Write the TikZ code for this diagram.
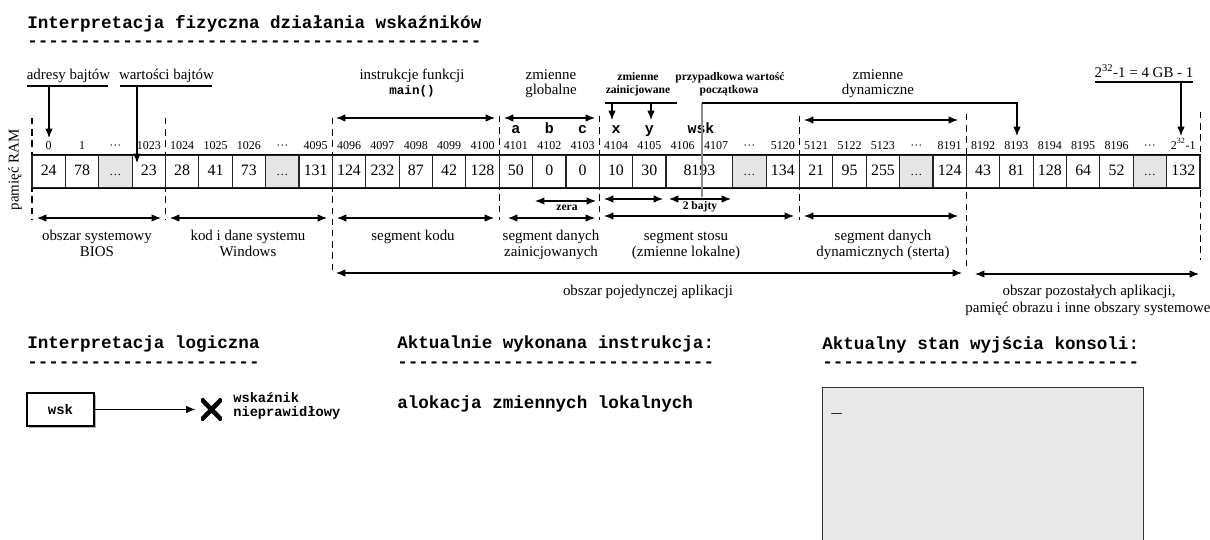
\documentclass[tikz,border=0pt]{standalone}
\usepackage{fontspec}
\setmainfont{Liberation Serif}
\setmonofont{Liberation Mono}
\usetikzlibrary{arrows.meta,shadows}

\begin{document}
\begin{tikzpicture}[x=0.75pt,y=-0.75pt,
  lbl/.style={font=\fontsize{11.2}{13}\selectfont, inner sep=0pt, anchor=base},
  addr/.style={font=\fontsize{9}{10}\selectfont, inner sep=0pt, anchor=base},
  smallbold/.style={font=\bfseries\fontsize{8.7}{10}\selectfont, inner sep=0pt, anchor=base},
  heading/.style={font=\ttfamily\bfseries\fontsize{13.2}{15}\selectfont, inner sep=0pt, anchor=base west},
  varname/.style={font=\ttfamily\bfseries\fontsize{11.2}{13}\selectfont, inner sep=0pt, anchor=base},
  memcell/.style={draw=black!85, fill=white, line width=0.85pt, minimum width=25.03pt,
    minimum height=24.75pt, inner sep=0pt, text height=6pt, text depth=0pt,
    font=\fontsize{11.9}{13}\selectfont},
  gapcell/.style={memcell, fill=black!10, font=\fontsize{9}{10}\selectfont},
  widecell/.style={memcell, minimum width=50.06pt},
  guide/.style={line width=1.05pt, dash pattern=on 4.8pt off 3.6pt},
  span/.style={line width=0.8pt, {Latex[length=7pt,width=5.6pt]}-{Latex[length=7pt,width=5.6pt]}},
  pointer/.style={line width=0.8pt, -{Latex[length=7pt,width=5.6pt]}},
  rule/.style={line width=0.8pt},
  crossmark/.style={minimum width=15.5pt, minimum height=16pt, inner sep=0pt,
    path picture={\draw[line width=3.4pt, line cap=butt]
      (path picture bounding box.north west) -- (path picture bounding box.south east)
      (path picture bounding box.south west) -- (path picture bounding box.north east);}},
]
\useasboundingbox (0,0) rectangle (1210,539);

% ---------- heading ----------
\node[heading] (title) at (27,28) {Interpretacja fizyczna działania wskaźników};
\node[heading] (titlerule) at (27,46.5) {-------------------------------------------};

% ---------- segment boundaries (dashed guides) ----------
\draw[guide] (32,118) -- (32,220);
\draw[guide] (165.5,118) -- (165.5,220);
\draw[guide] (332.3,118) -- (332.3,270);
\draw[guide] (499.2,116) -- (499.2,220);
\draw[guide] (599.3,116) -- (599.3,220);
\draw[guide] (799.5,116) -- (799.5,220);
\draw[guide] (966.4,114) -- (966.4,268);
\draw[guide] (1200.5,112) -- (1200.5,260);

% ---------- memory cells ----------
\foreach \i/\v in {0/24,1/78,3/23,4/28,5/41,6/73,8/131,9/124,10/232,11/87,12/42,13/128,
                   14/50,15/0,16/0,17/10,18/30,22/134,23/21,24/95,25/255,27/124,
                   28/43,29/81,30/128,31/64,32/52,34/132}
  \node[memcell] (c\i) at ({32+(\i+0.5)*33.371},171.5) {\v};
\foreach \i in {2,7,21,26,33}
  \node[gapcell] (c\i) at ({32+(\i+0.5)*33.371},171.5) {…};
\node[widecell] (c19) at ({32+20*33.371},171.5) {8193};
\draw[line width=1.3pt] (c0.north west) -- (c34.north east);
\draw[line width=1.3pt] (c0.south west) -- (c34.south east);

% ---------- addresses ----------
\foreach \i/\a in {0/0,1/1,2/···,3/1023,4/1024,5/1025,6/1026,7/···,8/4095,9/4096,
                   10/4097,11/4098,12/4099,13/4100,14/4101,15/4102,16/4103,17/4104,
                   18/4105,19/4106,20/4107,21/···,22/5120,23/5121,24/5122,25/5123,
                   26/···,27/8191,28/8192,29/8193,30/8194,31/8195,32/8196,33/···,
                   34/{2\textsuperscript{32}-1}}
  \node[addr] (a\i) at ({32+(\i+0.5)*33.371},149) {\a};

\node[lbl, rotate=90, anchor=center] (ram) at (15,170) {pamięć RAM};

% ---------- variable names ----------
\node[varname] (va) at ({32+14.5*33.371},133) {a};
\node[varname] (vb) at ({32+15.5*33.371},133) {b};
\node[varname] (vc) at ({32+16.5*33.371},133) {c};
\node[varname] (vx) at ({32+17.5*33.371},133) {x};
\node[varname] (vy) at ({32+18.5*33.371},133) {y};
\node[varname] (vwsk) at (701,133) {wsk};

% ---------- labels above the memory ----------
\node[lbl] (ladr) at (68.5,79) {adresy bajtów};
\draw[rule] (27,86) -- (108,86);
\coordinate (adrtip) at (49,138);
\draw[pointer] (49,86) -- (adrtip);

\node[lbl] (lval) at (166.5,79) {wartości bajtów};
\draw[rule] (120,86) -- (212,86);
\coordinate (valtip) at (137,163);
\draw[pointer] (137,86) -- (valtip);

\node[lbl] (lmain1) at (412,79) {instrukcje funkcji};
\node[font=\ttfamily\bfseries\fontsize{9.4}{11}\selectfont, inner sep=0pt, anchor=base] (lmain2) at (412,94) {main()};
\draw[span] (336,118) -- (495,118);

\node[lbl] (lglob1) at (551,79) {zmienne};
\node[lbl] (lglob2) at (551,94) {globalne};
\draw[span] (504,118) -- (595,118);

\node[smallbold] (linit1) at (638,80) {zmienne};
\node[smallbold] (linit2) at (638,93) {zainicjowane};
\draw[rule] (605,103) -- (677,103);
\draw[pointer] (612,103) -- (612,120);
\draw[pointer] (651,103) -- (651,120);

\node[smallbold] (lrand1) at (730,80) {przypadkowa wartość};
\node[smallbold] (lrand2) at (729,93) {początkowa};
\coordinate (randcorner) at (702,103);
\draw[line width=0.8pt, black!45] (702,197) -- (randcorner);
\draw[pointer] (randcorner) -- (1017,103) -- (1017,136);

\node[lbl] (ldyn1) at (878,79) {zmienne};
\node[lbl] (ldyn2) at (878,94) {dynamiczne};
\draw[span] (804,120) -- (958,120);

\node[lbl] (lmax) at (1144,77) {2\textsuperscript{32}-1 = 4 GB - 1};
\draw[rule] (1095,82) -- (1193,82);
\draw[pointer] (1181,82) -- (1181,136);

% ---------- labels below the memory ----------
\draw[span] (37,218) -- (161,218);
\node[lbl] (lbios1) at (97,240) {obszar systemowy};
\node[lbl] (lbios2) at (97,256) {BIOS};

\draw[span] (170,218) -- (327,218);
\node[lbl] (lwin1) at (248,240) {kod i dane systemu};
\node[lbl] (lwin2) at (248,256) {Windows};

\draw[span] (337,218) -- (494,218);
\node[lbl] (lcode) at (413,240) {segment kodu};

\draw[span] (535,201) -- (596,201);
\node[smallbold] (lzera) at (567,210) {zera};
\draw[span] (508,218) -- (595,218);
\node[lbl] (ldata1) at (551,240) {segment danych};
\node[lbl] (ldata2) at (551,256) {zainicjowanych};

\draw[span] (604,199) -- (663,199);
\draw[span] (669,199) -- (731,199);
\node[smallbold] (lbytes) at (700,209) {2 bajty};
\draw[span] (604,216) -- (794,216);
\node[lbl] (lstack1) at (686,240) {segment stosu};
\node[lbl] (lstack2) at (686,256) {(zmienne lokalne)};

\draw[span] (804,216) -- (958,216);
\node[lbl] (lheap1) at (883,240) {segment danych};
\node[lbl] (lheap2) at (883,256) {dynamicznych (sterta)};

\draw[span] (336,273) -- (962,273);
\node[lbl] (lapp) at (648,295) {obszar pojedynczej aplikacji};

\draw[span] (975,274) -- (1199,274);
\node[lbl] (lrest1) at (1089,295) {obszar pozostałych aplikacji,};
\node[lbl] (lrest2) at (1088,312) {pamięć obrazu i inne obszary systemowe};

% ---------- logical interpretation ----------
\node[heading] (hlog) at (27,348) {Interpretacja logiczna};
\node[heading] (hlogrule) at (27,367.5) {----------------------};

\node[draw, line width=0.8pt, fill=white, minimum width=50.25pt, minimum height=24.75pt,
  drop shadow={shadow xshift=1.3pt, shadow yshift=-1.3pt, fill=black!60},
  font=\ttfamily\bfseries\fontsize{10.5}{12}\selectfont] (wskbox) at (60.5,409.5) {wsk};
\node[crossmark] (badptr) at (211.5,409.5) {};
\draw[pointer] (wskbox.east) -- ([xshift=-4pt]badptr.west);
\node[font=\ttfamily\bfseries\fontsize{10.3}{12}\selectfont, inner sep=0pt, anchor=base west] (bad1) at (233,402) {wskaźnik};
\node[font=\ttfamily\bfseries\fontsize{10.3}{12}\selectfont, inner sep=0pt, anchor=base west] (bad2) at (233,416) {nieprawidłowy};

% ---------- current instruction ----------
\node[heading] (hinstr) at (397,348) {Aktualnie wykonana instrukcja:};
\node[heading] (hinstrrule) at (397,367.5) {------------------------------};
\node[heading] (instr) at (397,408) {alokacja zmiennych lokalnych};

% ---------- console ----------
\node[heading] (hcons) at (822,349) {Aktualny stan wyjścia konsoli:};
\node[heading] (hconsrule) at (822,367.5) {------------------------------};
\begin{scope}
  \clip (0,0) rectangle (1210,539);
  \node[draw=black!80, line width=0.9pt, fill=black!9, minimum width=240.75pt,
    minimum height=135pt, anchor=north west, inner sep=0pt] (console) at (822,387) {};
\end{scope}
\node[heading] (cursor) at (831,412) {\_};
\end{tikzpicture}
\end{document}
